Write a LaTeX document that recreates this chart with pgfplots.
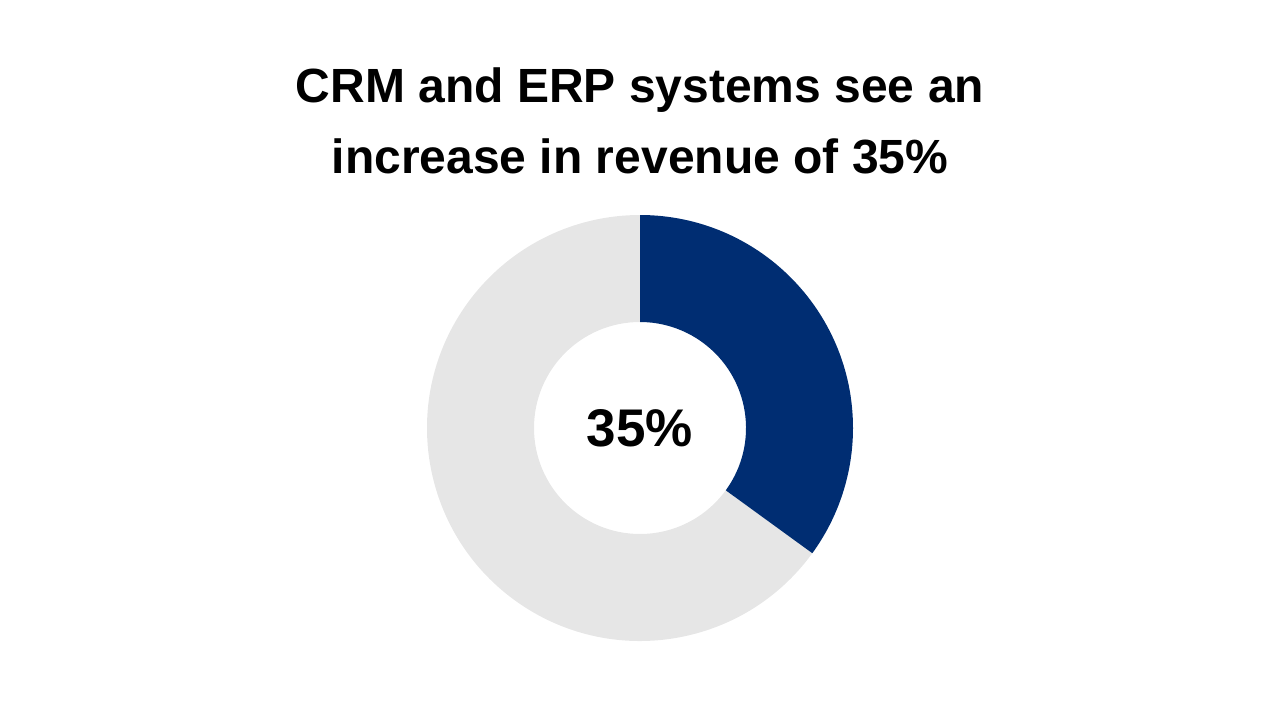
\documentclass[border=0pt]{standalone}
\usepackage{pgfplots}
\pgfplotsset{compat=1.18}
\usepackage{fontspec}
\setmainfont{Liberation Sans}
\definecolor{donutblue}{HTML}{002D72}
\definecolor{donutgray}{HTML}{E6E6E6}
\begin{document}
\begin{tikzpicture}
% page: 1280x720 px at 0.5pt per px
\path (0,0) rectangle (640pt,360pt);
\node[font=\fontsize{24}{29}\selectfont\bfseries] at (320pt,315pt) {CRM and ERP systems see an};
\node[font=\fontsize{24}{29}\selectfont\bfseries] at (320pt,282pt) {increase in revenue of 35\%};
\begin{axis}[
    at={(320pt,146pt)}, anchor=center,
    scale only axis, width=213pt, height=213pt,
    xmin=-1, xmax=1, ymin=-1, ymax=1,
    hide axis, clip=false
]
\pgfmathsetmacro\share{35}
\pgfmathsetmacro\ang{90-3.6*\share}
\fill[donutgray] (axis cs:{cos(\ang)},{sin(\ang)}) arc[start angle=\ang, end angle=-270, radius=106.5pt]
  -- (axis cs:0,0.4977) arc[start angle=90, end angle=\ang+360, radius=53pt] -- cycle;
\fill[donutblue] (axis cs:0,1) arc[start angle=90, end angle=\ang, radius=106.5pt]
  -- (axis cs:{0.4977*cos(\ang)},{0.4977*sin(\ang)}) arc[start angle=\ang, end angle=90, radius=53pt] -- cycle;
\node[font=\fontsize{26.5}{31}\selectfont\bfseries] at (axis cs:0,0) {35\%};
\end{axis}
\end{tikzpicture}
\end{document}
